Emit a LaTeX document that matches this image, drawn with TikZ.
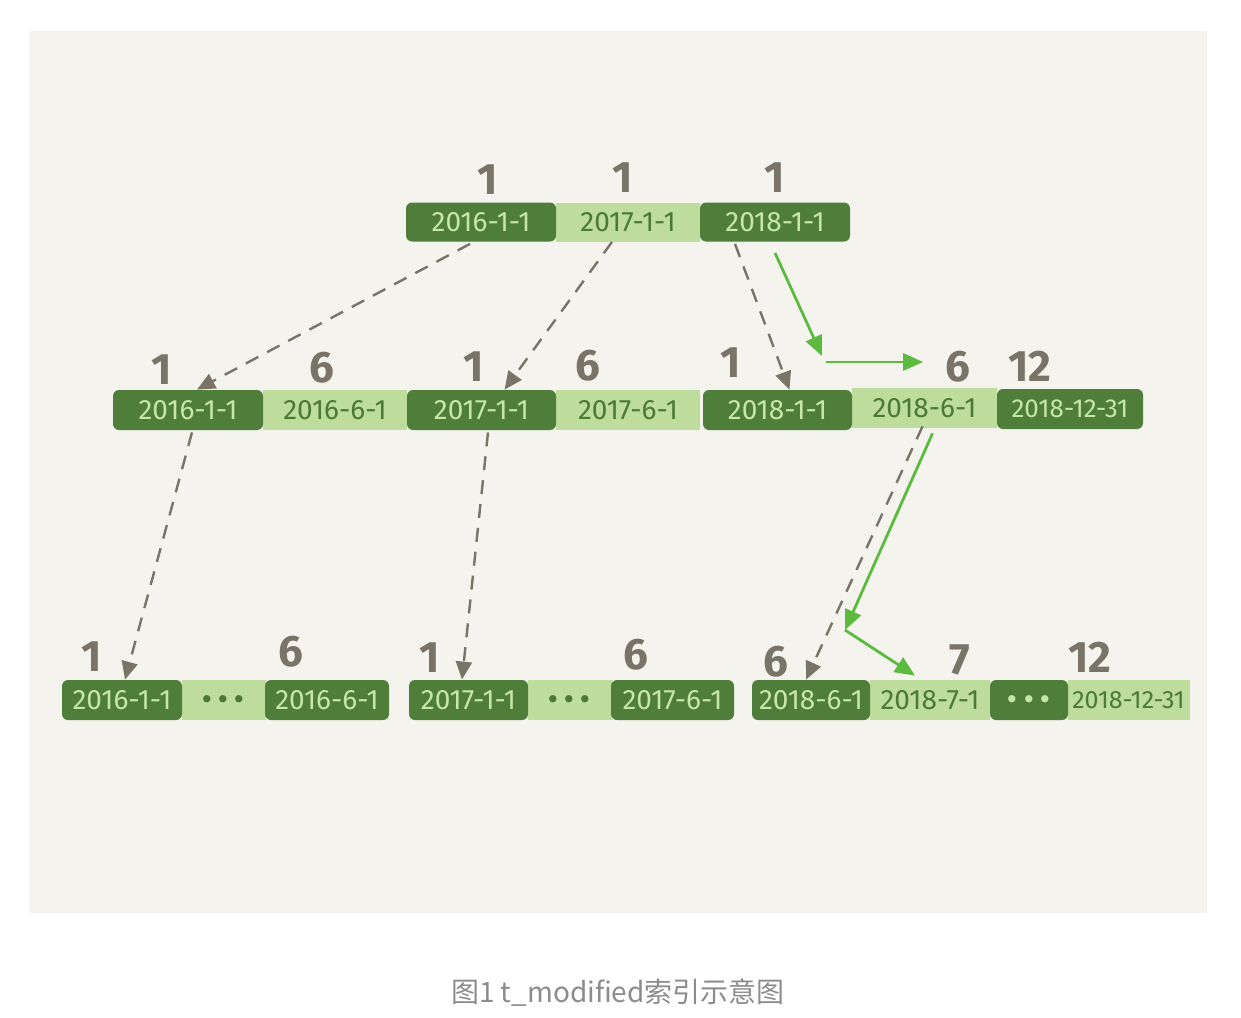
\documentclass[tikz,border=0pt]{standalone}
\usepackage{fontspec}
\setmainfont{Fira Sans}
\newfontfamily\cjkfont{Noto Sans CJK SC}
\usetikzlibrary{arrows.meta,calc}
\definecolor{bgc}{HTML}{F4F3EE}
\definecolor{dkg}{HTML}{4E7E3A}
\definecolor{ltg}{HTML}{BEDD9C}
\definecolor{dtxt}{HTML}{C8E6A6}
\definecolor{ltxt}{HTML}{4A7A35}
\definecolor{numg}{HTML}{7A7367}
\definecolor{arrg}{HTML}{5CBB3E}
\definecolor{capg}{HTML}{8C8C8C}
\newcommand{\mydots}{\smash{\raisebox{-5.5pt}{\fontsize{20}{20}\selectfont\bfseries ·\,·\,·}}}
\begin{document}
\begin{tikzpicture}[x=0.5pt,y=-0.5pt,
  box/.style={minimum height=20pt, inner sep=0pt, font=\fontsize{14}{14}\selectfont\mdseries},
  dk/.style={box, fill=dkg, text=dtxt, rounded corners=3pt},
  lt/.style={box, fill=ltg, text=ltxt},
  num/.style={text=numg, inner sep=0pt, font=\fontsize{22}{22}\selectfont\bfseries},
  garr/.style={draw=arrg, line width=1.4pt, -{Triangle[length=10pt,width=8.5pt]}},
  darr/.style={draw=numg, line width=1.2pt, dash pattern=on 7pt off 5pt, -{Triangle[length=9pt,width=8pt]}}
]
\useasboundingbox (0,0) rectangle (1241,1017);
\fill[white] (0,0) rectangle (1241,1017);
\fill[bgc] (29,31) rectangle (1207,913);

% top row
\node[lt, minimum width=72pt, minimum height=19.5pt] (t2) at (628,222) {2017-1-1};
\node[dk, minimum width=75pt, minimum height=19.5pt] (t1) at (481,222) {2016-1-1};
\node[dk, minimum width=75pt, minimum height=19.5pt] (t3) at (775,222) {2018-1-1};

% middle row
\node[lt, minimum width=72pt] (m2) at (335,410) {2016-6-1};
\node[lt, minimum width=72pt] (m4) at (628,410) {2017-6-1};
\node[lt, minimum width=72.5pt] (m6) at (924.5,408) {2018-6-1};
\node[dk, minimum width=75pt] (m1) at (188,410) {2016-1-1};
\node[dk, minimum width=74.5pt] (m3) at (481.5,410) {2017-1-1};
\node[dk, minimum width=74.5pt] (m5) at (777.5,410) {2018-1-1};
\node[dk, minimum width=73pt, font=\fontsize{13}{13}\selectfont] (m7) at (1070,409) {2018-12-31};

% bottom row
\node[lt, minimum width=42pt] (b2) at (223.5,700) {\mydots};
\node[lt, minimum width=42pt] (b5) at (569.5,700) {\mydots};
\node[lt, minimum width=60pt] (b8) at (930,700) {2018-7-1};
\node[lt, minimum width=61pt, font=\fontsize{12.5}{12.5}\selectfont] (b10) at (1128.5,700) {2018-12-31};
\node[dk, minimum width=60pt] (b1) at (122,700) {2016-1-1};
\node[dk, minimum width=62pt] (b3) at (327,700) {2016-6-1};
\node[dk, minimum width=59.5pt] (b4) at (468.5,700) {2017-1-1};
\node[dk, minimum width=61.5pt] (b6) at (672.5,700) {2017-6-1};
\node[dk, minimum width=59pt] (b7) at (811,700) {2018-6-1};
\node[dk, minimum width=39pt] (b9) at (1029,700) {\mydots};

% numbers
\node[num] (nt1) at (488,180) {1};
\node[num] (nt2) at (623,178) {1};
\node[num] (nt3) at (775,178) {1};
\node[num] (nm1) at (162,370) {1};
\node[num] (nm2) at (322,368) {6};
\node[num] (nm3) at (474,367) {1};
\node[num] (nm4) at (588,366) {6};
\node[num] (nm5) at (731,363) {1};
\node[num] (nm6) at (958,367) {6};
\node[num] (nm7) at (1030,366) {12};
\node[num] (nb1) at (92,657) {1};
\node[num] (nb3) at (291,652) {6};
\node[num] (nb4) at (430,658) {1};
\node[num] (nb6) at (636,655) {6};
\node[num] (nb7) at (776,662) {6};
\node[num] (nb8) at (960,660) {7};
\node[num] (nb10) at (1090,657) {12};

% dashed gray arrows
\draw[darr] ($(t1.south)+(-11,2)$) -- ($(m1.north)+(9,0)$);
\draw[darr] ($(t2.south)+(-16,0)$) -- ($(m3.north)+(23,0)$);
\draw[darr] ($(t3.south)+(-40,2)$) -- ($(m5.north)+(12,0)$);
\draw[darr] ($(m1.south)+(4,2)$) -- ($(b1.north)+(3,0)$);
\draw[darr] ($(m3.south)+(6.5,2)$) -- ($(b4.north)+(-6.5,0)$);
\draw[darr] ($(m6.south)+(-2,-2)$) -- ($(b7.north)+(-5,0)$);

% green arrows
\coordinate (g1) at (822,356);
\coordinate (g2) at (826,362);
\coordinate (g3) at (845,630);
\draw[garr] ($(t3.south)+(0,11)$) -- (g1);
\draw[garr] (g2) -- ($(nm6.west)+(-22,-5)$);
\draw[garr] ($(m6.south)+(8,5)$) -- (g3);
\draw[garr] (g3) -- ($(b8.north)+(-15,-4)$);

% caption
\node[text=capg, font=\fontsize{14}{14}\selectfont\cjkfont] (cap) at (618,993) {图1 t\_modified索引示意图};
\end{tikzpicture}
\end{document}
